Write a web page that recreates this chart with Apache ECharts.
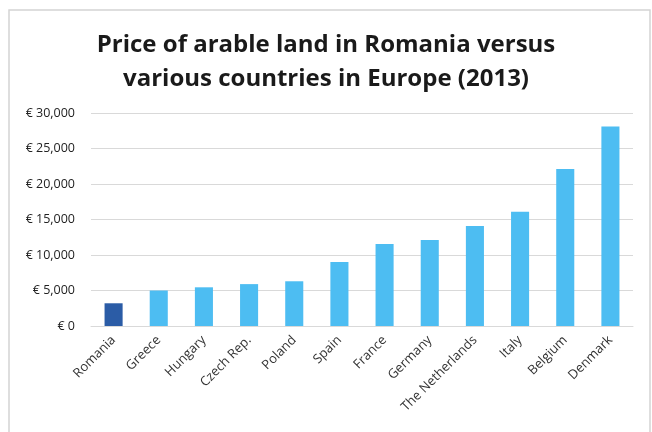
<!DOCTYPE html>
<html>
<head>
<meta charset="utf-8">
<script src="https://cdn.jsdelivr.net/npm/echarts@6/dist/echarts.min.js"></script>
<style>
  html, body { margin: 0; padding: 0; background: #fff; }
  #main { width: 652px; height: 432px; }
</style>
</head>
<body>
<div id="main"></div>
<script>
// data
const countries = ['Romania', 'Greece', 'Hungary', 'Czech Rep.', 'Poland', 'Spain', 'France',
  'Germany', 'The Netherlands', 'Italy', 'Belgium', 'Denmark']
const prices = [3200, 5000, 5450, 5900, 6300, 9000, 11550, 12100, 14100, 16100, 22100, 28100]
const yTicks = [0, 5000, 10000, 15000, 20000, 25000, 30000]

const myChart = echarts.init(document.getElementById('main'))

const option = {
  backgroundColor: '#ffffff',
  textStyle: { fontFamily: 'Open Sans' },
  title: {
    text: 'Price of arable land in Romania versus\nvarious countries in Europe (2013)',
    left: 'center',
    top: 23,
    textStyle: {
      fontFamily: 'Open Sans',
      fontSize: 24,
      fontWeight: 'bold',
      color: '#1a1a1a',
      lineHeight: 34
    }
  },
  graphic: [{
    type: 'rect',
    shape: { x: 9, y: 10, width: 641, height: 440 },
    style: { fill: 'none', stroke: '#d4d4d4', lineWidth: 1.5 },
    silent: true
  }],
  grid: { left: 91, right: 19, top: 113, bottom: 106 },
  xAxis: {
    type: 'category',
    data: countries,
    axisTick: { show: false },
    axisLine: { lineStyle: { color: '#d9d9d9' } },
    axisLabel: {
      rotate: 45,
      interval: 0,
      margin: 12,
      fontSize: 13,
      color: '#333'
    }
  },
  yAxis: {
    type: 'value',
    min: yTicks[0],
    max: yTicks[yTicks.length - 1],
    interval: 5000,
    axisLine: { show: false },
    axisTick: { show: false },
    splitLine: { lineStyle: { color: '#d9d9d9', width: 1 } },
    axisLabel: {
      fontSize: 12.5,
      color: '#222',
      margin: 16,
      formatter: function (v) {
        return '€ ' + v.toLocaleString('en-US')
      }
    }
  },
  series: [{
    type: 'bar',
    barWidth: '40%',
    data: prices.map(function (v, i) {
      return {
        value: v,
        itemStyle: { color: i === 0 ? '#2b5ca6' : '#4dbdf2' }
      }
    })
  }]
}

myChart.setOption(option)
</script>
</body>
</html>
